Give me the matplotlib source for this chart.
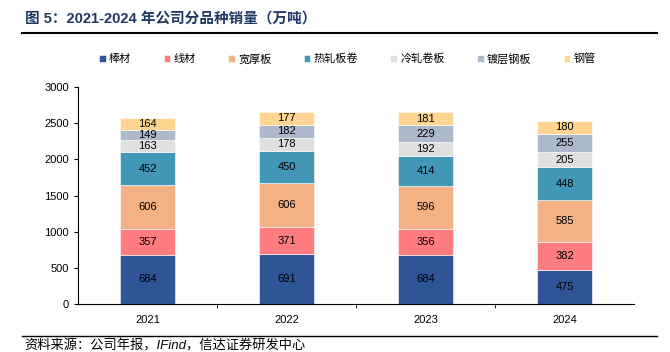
import matplotlib.pyplot as plt
import numpy as np

plt.rcParams['font.family'] = ['Liberation Sans', 'Noto Sans CJK SC', 'DejaVu Sans']

years = ['2021', '2022', '2023', '2024']
names = ['棒材', '线材', '宽厚板', '热轧板卷', '冷轧卷板', '镀层钢板', '钢管']
bangcai = [684, 691, 684, 475]
xiancai = [357, 371, 356, 382]
kuanhouban = [606, 606, 596, 585]
rezha = [452, 450, 414, 448]
lengzha = [163, 178, 192, 205]
duceng = [149, 182, 229, 255]
gangguan = [164, 177, 181, 180]
series = [bangcai, xiancai, kuanhouban, rezha, lengzha, duceng, gangguan]
colors = ['#2F5597', '#FF7C80', '#F4B183', '#4397B6', '#E0E0E0', '#ADB9CA', '#FFD591']

fig = plt.figure(figsize=(6.7, 3.52), dpi=100)
ax = fig.add_axes([0.1164, 0.136, 0.83, 0.617])

x = np.arange(len(years))
bottom = np.zeros(len(years))
for vals, name, c in zip(series, names, colors):
    vals = np.array(vals)
    ax.bar(x, vals, 0.4, bottom=bottom, color=c, label=name, edgecolor='white', linewidth=0.4)
    for xi, b, v in zip(x, bottom, vals):
        ax.text(xi, b + v / 2, str(v), ha='center', va='center', fontsize=8, color='black')
    bottom += vals

ax.set_xlim(-0.5, 3.5)
ax.set_ylim(0, 3000)
ax.set_yticks(range(0, 3001, 500))
ax.set_xticks(x)
ax.set_xticklabels(years)
ax.set_xticks([0.5, 1.5, 2.5], minor=True)
ax.tick_params(axis='x', which='major', length=0, labelsize=8, pad=8)
ax.tick_params(axis='x', which='minor', length=3, direction='out')
ax.tick_params(axis='y', labelsize=8, length=3, direction='out')
for s in ['top', 'right']:
    ax.spines[s].set_visible(False)
ax.spines['left'].set_linewidth(0.8)
ax.spines['bottom'].set_linewidth(0.8)

leg = ax.legend(loc='upper left', bbox_to_anchor=(0.03, 1.175), ncol=7, frameon=False, fontsize=8,
                handlelength=0.6, handleheight=0.6, handletextpad=0.3, columnspacing=2.9,
                borderaxespad=0)

fig.text(0.037, 0.948, '图 5：2021-2024 年公司分品种销量（万吨）', fontsize=10.5, fontweight='bold',
         color='#1F3864', ha='left', va='center')
fig.add_artist(plt.Line2D([0.033, 0.98], [0.906, 0.906], color='black', linewidth=1.5))
fig.add_artist(plt.Line2D([0.033, 0.98], [0.045, 0.045], color='black', linewidth=1.0))
fig.text(0.037, 0.018, '资料来源：公司年报，IFind，信达证券研发中心', fontsize=9.5, style='italic',
         ha='left', va='center')

fig.savefig('out.png', dpi=100)
